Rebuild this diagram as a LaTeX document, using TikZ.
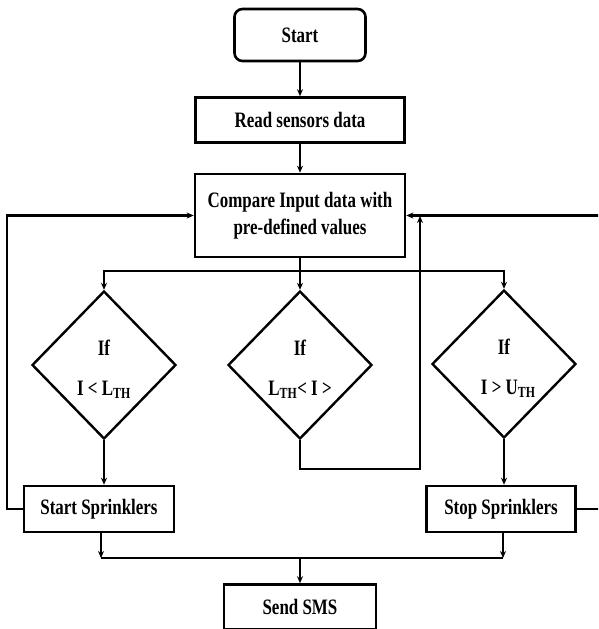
\documentclass[tikz,border=0pt]{standalone}
\usepackage{fontspec}
\newfontfamily\flowfont[FakeStretch=0.77]{Liberation Serif}
\usetikzlibrary{arrows.meta,shapes.geometric}
\begin{document}
\begin{tikzpicture}[x=1pt, y=-1pt, line join=miter,
	font=\flowfont\bfseries\fontsize{22}{26}\selectfont,
	box/.style={draw, line width=2.6pt, inner sep=0pt, align=center},
	decision/.style={draw, diamond, line width=2.4pt, inner sep=0pt, align=center, minimum width=144pt, minimum height=148pt},
	arr/.style={line width=2.4pt, -{Stealth[length=7pt,width=6pt]}},
	link/.style={line width=2.4pt}]
	\useasboundingbox (0,0) rectangle (598,629);
	\clip (0,0) rectangle (598,629);
	\node[box, rounded corners=8pt, minimum width=131pt, minimum height=52pt] (start) at (300,35) {Start};
	\node[box, minimum width=209pt, minimum height=45pt] (read) at (300,120) {Read sensors data};
	\node[box, minimum width=210pt, minimum height=83pt] (compare) at (300,215.5) {Compare Input data with\\[1pt]pre-defined values};
	\node[decision] (ifleft) at (104,365) {If\\[14pt]I < L\textsubscript{TH}\\[-32pt]};
	\node[decision] (ifmid) at (300,365) {If\\[14pt]L\textsubscript{TH}< I >\\[-32pt]};
	\node[decision] (ifright) at (504,364) {If\\[14pt]\ \ I > U\textsubscript{TH}\\[-32pt]};
	\node[box, minimum width=150pt, minimum height=46pt] (startsp) at (99,509) {Start Sprinklers};
	\node[box, minimum width=149pt, minimum height=46pt] (stopsp) at (501,509) {Stop Sprinklers};
	\node[box, minimum width=152pt, minimum height=45pt] (sms) at (300,607) {Send SMS};
	\coordinate (split) at (300,271);
	\coordinate (join) at (420,216);
	\coordinate (merge) at (300,558);
	\draw[arr] (start) -- (read);
	\draw[arr] (read) -- (compare);
	\draw[arr] (compare) -- (ifmid);
	\draw[arr] (split) -| (ifleft.north);
	\draw[arr] (split) -| (ifright.north);
	\draw[arr] (ifleft.south) -- (ifleft.south |- startsp.north);
	\draw[arr] (ifright.south) -- (ifright.south |- stopsp.north);
	\draw[arr] (startsp.west) -- ++(-16,0) |- (compare.west);
	\draw[arr] (stopsp.east) -- ++(24,0) |- (compare.east);
	\draw[arr] (ifmid.south) -- ++(0,29) -| (join);
	\draw[arr] ([xshift=2pt]startsp.south) -- ([xshift=2pt]startsp.south |- merge);
	\draw[arr] ([xshift=2pt]stopsp.south) -- ([xshift=2pt]stopsp.south |- merge);
	\draw[link] ([xshift=2pt]startsp.south |- merge) -- ([xshift=2pt]stopsp.south |- merge);
	\draw[arr] (merge) -- (sms);
\end{tikzpicture}
\end{document}
